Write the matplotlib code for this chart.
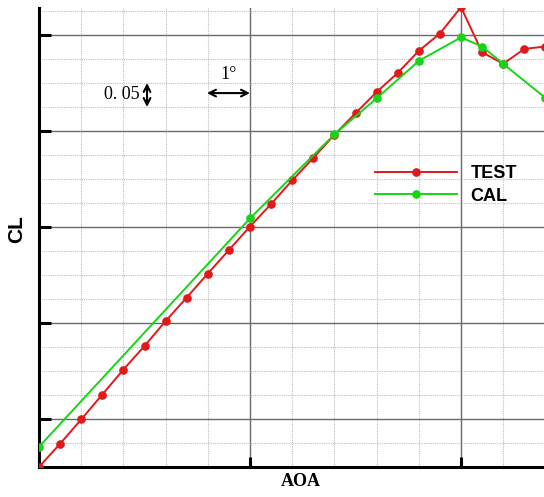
import matplotlib
matplotlib.use("Agg")
import matplotlib.pyplot as plt
from matplotlib.ticker import MultipleLocator, NullFormatter

# ---- data ----
test_aoa = [0, 0.5, 1, 1.5, 2, 2.5, 3, 3.5, 4, 4.5, 5, 5.5, 6, 6.5, 7, 7.5,
            8, 8.5, 9, 9.5, 10, 10.5, 11, 11.5, 12]
test_cl = [0.000, 0.0485, 0.099, 0.151, 0.203, 0.252, 0.304, 0.353, 0.403,
           0.452, 0.501, 0.548, 0.597, 0.644, 0.692, 0.737, 0.781, 0.821,
           0.867, 0.903, 0.958, 0.864, 0.840, 0.871, 0.876]
cal_aoa = [0, 5, 7, 8, 9, 10, 10.5, 11, 12]
cal_cl = [0.042, 0.518, 0.693, 0.768, 0.846, 0.895, 0.876, 0.840, 0.769]
series_labels = ["TEST", "CAL"]
x_label = "AOA"
y_label = "CL"

RED = "#e01a1a"
GREEN = "#16d416"

fig = plt.figure(figsize=(5.44, 4.97), dpi=100)
ax = fig.add_axes([39 / 544, 30 / 497, (544 - 39) / 544, (467 - 8) / 497])

ax.set_xlim(0, 505 / 42.2)
ax.set_ylim(0, 459 / 480)

ax.plot(test_aoa, test_cl, color=RED, lw=1.4, marker="o", ms=5.2,
        label=series_labels[0], zorder=3)
ax.plot(cal_aoa, cal_cl, color=GREEN, lw=1.4, marker="o", ms=5.2,
        label=series_labels[1], zorder=3)

# grid
ax.xaxis.set_major_locator(MultipleLocator(5))
ax.xaxis.set_minor_locator(MultipleLocator(1))
ax.yaxis.set_major_locator(MultipleLocator(0.2, offset=0.1))
ax.yaxis.set_minor_locator(MultipleLocator(0.05))
ax.grid(which="major", color="#6a6a6a", lw=1.0, ls="-")
ax.grid(which="minor", color="#bdbdbd", lw=0.8, ls=(0, (1, 1)))
ax.set_axisbelow(True)

ax.xaxis.set_major_formatter(NullFormatter())
ax.yaxis.set_major_formatter(NullFormatter())
ax.tick_params(axis="y", which="major", direction="in", length=8.6, width=2.2, color="black")
ax.tick_params(axis="x", which="major", direction="in", length=7, width=2.2, color="black")
ax.tick_params(which="minor", length=0)

for s in ["top", "right"]:
    ax.spines[s].set_visible(False)
for s in ["left", "bottom"]:
    ax.spines[s].set_linewidth(2.2)
    ax.spines[s].set_color("black")

# axis labels
fig.text(17 / 544, 1 - 229 / 497, y_label, rotation=90, ha="center", va="center",
         fontsize=15, fontweight="bold", family="Liberation Sans")
fig.text(301 / 544, 1 - 482 / 497, x_label, ha="center", va="center",
         fontsize=13, family="Liberation Serif", fontweight="bold")

# scale annotations
ax.annotate("", xy=(2.56, 0.75), xytext=(2.56, 0.80), xycoords="data",
            arrowprops=dict(arrowstyle="<->", lw=1.5, color="black",
                            mutation_scale=12, shrinkA=0, shrinkB=0))
ax.text(2.39, 0.776, "0. 05", ha="right", va="center", fontsize=13,
        family="Liberation Serif")
ax.annotate("", xy=(3.98, 0.779), xytext=(5.0, 0.779), xycoords="data",
            arrowprops=dict(arrowstyle="<->", lw=1.5, color="black",
                            mutation_scale=12, shrinkA=0, shrinkB=0))
ax.text(4.5, 0.818, "1°", ha="center", va="center", fontsize=13,
        family="Liberation Serif")

# legend
leg = ax.legend(loc="upper left", bbox_to_anchor=((375 - 39) / 505, (467 - 165) / 459),
                frameon=False, borderpad=0, borderaxespad=0, handlelength=4.55,
                handletextpad=0.75, labelspacing=0.32, numpoints=1,
                prop=dict(family="Liberation Sans", weight="bold", size=13))

fig.savefig("out.png", dpi=100)
